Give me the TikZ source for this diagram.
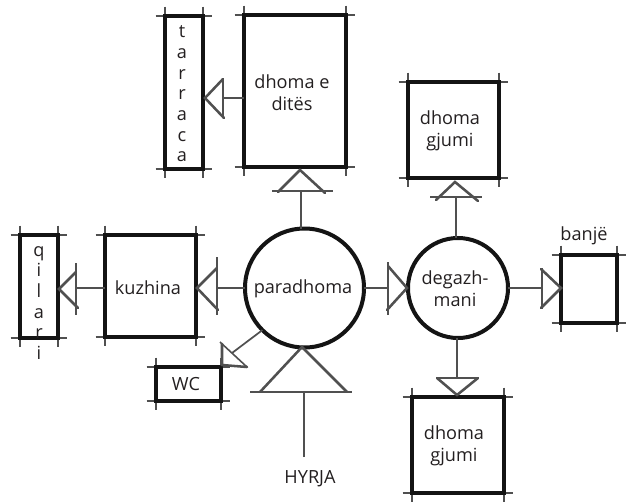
\documentclass[tikz,border=0pt]{standalone}
\usepackage{fontspec}
\setmainfont{Open Sans}
\definecolor{ink}{HTML}{141414}
\definecolor{soft}{HTML}{505050}
\definecolor{txt}{HTML}{231F20}
\tikzset{
  roombox/.style={inner sep=0pt,outer sep=0pt,rectangle},
  wall/.style={draw=ink,line width=3pt,line join=miter},
  tick/.style={draw=soft,line width=1.2pt},
  hub/.style={draw=ink,line width=3pt,circle,inner sep=0pt,outer sep=0pt},
  link/.style={draw=soft,line width=1.3pt},
  tri/.style={draw=soft,line width=1.9pt,line cap=round,line join=miter},
  base/.style={draw=soft,line width=1.2pt},
  lab/.style={text=txt,font=\fontsize{13.6pt}{16.4pt}\selectfont,align=center,inner sep=0pt},
  vlab/.style={text=txt,font=\fontsize{13.6pt}{15.5pt}\selectfont,align=center,inner sep=0pt},
}
\newcommand\room[5]{%
  \pgfmathsetmacro\rw{(#4-#2)*.75}\pgfmathsetmacro\rh{(#5-#3)*.75}%
  \node[roombox,minimum width=\rw pt,minimum height=\rh pt] (#1) at ({(#2+#4)/2},{(#3+#5)/2}) {};
  \draw[tick] ([xshift=-7pt]#1.north west) -- ([xshift=7pt]#1.north east);
  \draw[tick] ([xshift=-7pt]#1.south west) -- ([xshift=7pt]#1.south east);
  \draw[tick] ([yshift=7pt]#1.north west) -- ([yshift=-7pt]#1.south west);
  \draw[tick] ([yshift=7pt]#1.north east) -- ([yshift=-7pt]#1.south east);
  \draw[wall] (#1.north west) rectangle (#1.south east);
}
\newcommand\tipmark[5]{%
  \draw[base] #4 -- #5;
  \draw[tri] #2 -- #1 -- #3;
}
\begin{document}
\begin{tikzpicture}[x=.75pt,y=-.75pt]
\useasboundingbox[fill=white] (0,0) rectangle (632,503);
\room{tar}{165}{16}{203}{169}
\room{dit}{244}{15}{346}{167}
\room{gjt}{408}{82}{499}{178}
\room{ban}{561}{255}{617}{323}
\room{gjb}{412}{397}{504}{493}
\room{kuz}{105}{235}{196}{337}
\room{qil}{20}{235}{58}{338}
\room{wcb}{156}{367}{221}{401}
\pgfmathsetmacro\da{119*.75}\pgfmathsetmacro\db{100*.75}
\node[hub,minimum size=\da pt] (par) at (304.5,288) {};
\node[hub,minimum size=\db pt] (deg) at (458,288) {};
\coordinate (cDit) at (301,191);
\coordinate (cTar) at (223,98);
\coordinate (cGjt) at (456,197);
\coordinate (cDeg) at (388,288);
\coordinate (cBan) at (542,288);
\coordinate (cGjb) at (457,378);
\coordinate (cKuz) at (217,288);
\coordinate (cQil) at (76,288);
\coordinate (cWc) at (232,353);
\coordinate (hyrEnd) at (304,457);
\coordinate (hyrBase) at (304,392);
\draw[link] (par.north -| cDit) -- (cDit);
\draw[link] (dit.west |- cTar) -- (cTar);
\draw[link] (deg.north -| cGjt) -- (cGjt);
\draw[link] (par.east) -- (cDeg);
\draw[link] (deg.east) -- (cBan);
\draw[link] (deg.south -| cGjb) -- (cGjb);
\draw[link] (par.west) -- (cKuz);
\draw[link] (kuz.west |- cQil) -- (cQil);
\draw[link] (par.225) -- (cWc);
\draw[link] (hyrEnd) -- (hyrBase);
\tipmark{(300,170)}{(278,192)}{(325,193)}{(272,191)}{(333,191)}
\tipmark{(205,98)}{(223,79)}{(224,118)}{(223,79)}{(223,118)}
\tipmark{(455,182)}{(436,200)}{(478,201)}{(430,197)}{(482,197)}
\tipmark{(407,288)}{(388,266)}{(387,310)}{(388,262)}{(388,315)}
\tipmark{(561,288)}{(541,269)}{(541,308)}{(542,268)}{(542,309)}
\tipmark{(457,395)}{(437,378)}{(478,378)}{(437,378)}{(479,378)}
\tipmark{(197,288)}{(217,268)}{(218,310)}{(217,257)}{(217,315)}
\tipmark{(59,289)}{(76,272)}{(78,308)}{(76,263)}{(76,315)}
\tipmark{(222,365)}{(222,344)}{(247,367)}{(220,342)}{(247,367)}
\tipmark{(302,347)}{(260,392)}{(347,392)}{(250,392)}{(352,392)}
\node[lab] (tPar) at (303,289) {paradhoma};
\node[lab] (tKuz) at (148,288) {kuzhina};
\node[lab] (tDit) at (292,93) {dhoma e\\ditës};
\node[lab] (tGjt) at (450,131) {dhoma\\gjumi};
\node[lab] (tGjb) at (454,446) {dhoma\\gjumi};
\node[lab] (tDeg) at (455,289) {degazh-\\mani};
\node[lab] (tBan) at (584,236) {banjë};
\node[lab] (tHyr) at (310,479) {HYRJA};
\node[lab] (tWc) at (186,384) {WC};
\node[vlab] (tQil) at (39,303) {q\\i\\l\\a\\r\\i};
\node[vlab] (tTar) at (182,94) {t\\a\\r\\r\\a\\c\\a};
\end{tikzpicture}
\end{document}
